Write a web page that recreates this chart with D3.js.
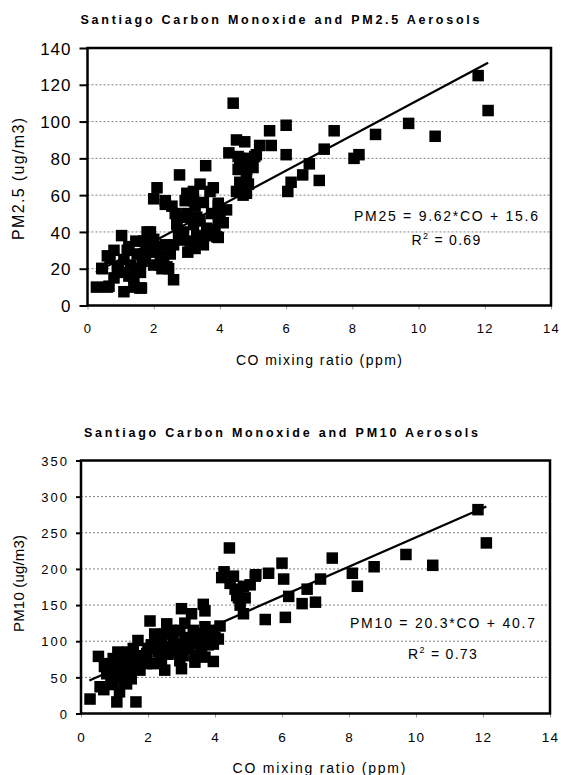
<html>
<head>
<title>Santiago CO vs PM</title>
<script src="https://d3js.org/d3.v7.min.js" charset="utf-8"></script>
<style>
  body { margin: 0; background: white; }
  svg { display: block; font-family: "Liberation Sans", Arial, sans-serif; }
</style>
</head>
<body>
<script>
// PM2.5 panel: CO (ppm) and PM2.5 (ug/m3)
var coPm25 = [11.8, 12.1, 4.4, 9.7, 10.5, 8.7, 8.05, 8.2, 7.45, 7.15, 7.0, 6.7, 6.5, 6.15, 6.05, 6.0, 6.0, 5.5, 5.55, 5.2,
  5.1, 5.0, 4.5, 4.75, 4.27, 4.55, 4.8, 4.55, 4.81, 4.6, 4.86, 4.8, 3.57, 2.78, 2.1, 3.4, 3.8, 3.2, 0.27, 0.65,
  1.03, 1.1, 1.63, 2.6, 2.25, 3.03, 2.75, 2.0, 2.65, 2.95, 3.25, 3.4, 3.95, 4.1, 3.95, 3.5, 3.25, 1.46, 1.9, 1.8,
  0.6, 0.45, 0.93, 1.25, 1.4, 2.45, 2.3, 0.8, 1.1, 1.65, 1.95, 2.35, 2.7, 2.9, 2.55, 2.35, 3.3, 3.85, 3.7, 4.5,
  4.8, 4.6, 5.05, 4.6, 4.8, 4.7, 2.35, 3.0, 3.2, 3.1, 3.95, 2.7, 2.8, 3.4, 3.9, 3.95, 1.8, 0.68, 0.43, 0.6,
  1.58, 2.5, 2.2, 1.25, 1.45, 1.75, 2.05, 0.9, 1.4, 2.4,
  1.2, 1.5, 1.7, 2.0, 2.2, 1.0, 1.3, 1.6, 2.0, 0.8, 3.0, 3.3, 3.6, 3.75, 3.5, 2.9, 3.1, 3.6, 4.0, 2.6,
  3.2, 4.2];
var pm25 = [125, 106, 110, 99, 92, 93, 80, 82, 95, 85, 68, 77, 71, 67, 62, 98, 82, 95, 87, 87,
  82, 75, 90, 89, 83, 81, 80, 74, 74, 67, 66, 61, 76, 71, 64, 66, 64, 62, 10, 10.5,
  38, 7.5, 9.5, 14, 20, 29, 38, 58, 50, 57, 54, 46, 54, 45, 37, 33, 31, 35, 40, 31,
  27, 20, 21, 16, 10, 20, 24, 30, 25, 24, 29, 33, 44, 48, 54, 57, 38, 41, 62, 62,
  66, 80, 81, 74, 68, 60, 55, 61, 57, 59, 55.6, 44.7, 35.6, 35.6, 37.4, 46, 40, 25.6, 20.2, 10,
  9.5, 28, 22, 32, 20, 26, 32, 20, 15, 21,
  30, 28, 35, 36, 27, 18, 22, 18, 22, 15, 50, 48, 42, 50, 56, 40, 35, 38, 49, 33,
  44, 52];

// PM10 panel
var coPm10 = [4.43, 4.27, 4.55, 5.22, 5.6, 4.85, 4.65, 4.9, 4.85, 5.5, 3.0, 3.3, 3.65, 3.7, 2.06, 2.56, 2.5, 2.95, 3.35, 3.95,
  4.15, 1.7, 2.26, 2.66, 3.45, 3.95, 4.1, 0.52, 0.96, 1.26, 1.66, 1.96, 2.16, 2.5, 2.95, 3.4, 3.4, 3.95, 3.7, 0.57,
  0.27, 1.07, 1.64, 1.15, 0.77, 0.96, 1.36, 1.46, 1.76, 1.16, 1.96, 1.56, 1.26, 0.86, 1.06, 11.85, 12.1, 9.7, 10.5, 8.75,
  8.1, 8.25, 7.5, 7.15, 6.75, 6.0, 6.05, 6.2, 6.6, 7.0, 6.1, 4.7, 0.68, 5.2, 4.45, 4.6, 5.05, 4.75, 4.2, 2.0,
  2.3, 2.75, 3.1, 3.6, 3.8, 2.8, 3.2, 1.4, 1.0, 1.2, 0.9, 2.2, 2.4, 3.05, 3.6, 1.85, 1.3, 1.5, 0.7,
  0.8, 1.1, 1.3, 1.6, 1.9, 2.1, 2.6, 2.9, 3.3, 3.5, 3.8, 4.0, 2.7, 3.1, 1.2, 0.9, 1.5, 2.4, 3.0, 3.7];
var pm10 = [229, 196, 190, 192, 194, 176, 163, 160, 138, 130, 145, 138, 151, 142, 128, 124, 110, 115, 115, 115,
  121, 101, 96, 92, 96, 96, 103, 79, 76, 73, 78, 83, 69, 60, 73, 71, 80, 72, 78, 37,
  20, 16, 16, 30, 55, 46, 41, 55, 60, 60, 69, 90, 64, 69, 72, 282, 236, 220, 205, 203,
  194, 176, 215, 186, 172, 208, 186, 162, 152, 154, 133, 160, 33, 190, 180, 172, 178, 150, 188, 90,
  85, 100, 105, 100, 108, 85, 90, 85, 60, 50, 40, 110, 100, 80, 88, 70, 45, 70, 65,
  62, 85, 58, 62, 80, 95, 82, 95, 102, 110, 95, 105, 115, 125, 78, 52, 48, 72, 62, 120];

var xTicks = [0, 2, 4, 6, 8, 10, 12, 14];
var pm25Ticks = [0, 20, 40, 60, 80, 100, 120, 140];
var pm10Ticks = [0, 50, 100, 150, 200, 250, 300, 350];

var titles = ["Santiago Carbon Monoxide and PM2.5 Aerosols", "Santiago Carbon Monoxide and PM10 Aerosols"];
var yLabels = ["PM2.5 (ug/m3)", "PM10 (ug/m3)"];
var xLabel = "CO mixing ratio (ppm)";
var fitText = ["PM25 = 9.62*CO + 15.6", "PM10 = 20.3*CO + 40.7"];
var r2Text = [" = 0.69", " = 0.73"];
var fitSlope = [9.62, 20.3];
var fitIntercept = [15.6, 40.7];
var fitRange = [0.25, 12.1];

var width = 561, height = 775;

var svg = d3.select("body").append("svg")
  .attr("width", width)
  .attr("height", height);

svg.append("rect").attr("width", width).attr("height", height).attr("fill", "white");

var panels = [
  { co: coPm25, pm: pm25, ticks: pm25Ticks, left: 87.5, right: 551, top: 48, bottom: 305.5,
    titleY: 24, titleW: 399, titleX: 280,
    yTickLen: 8, yTickFont: 17, yTickSpace: 1, yTickOff: 16,
    xTickFont: 13, xTickY: 27.5,
    yLabelFont: 16, yLabelY: 179, yLabelW: 122,
    xLabelY: 365, xLabelW: 166,
    fitX: 446, fitY: 220.7, fitW: 184, r2X: 411.5, r2Y: 245 },
  { co: coPm10, pm: pm10, ticks: pm10Ticks, left: 81, right: 550, top: 460.5, bottom: 713.5,
    titleY: 437, titleW: 394, titleX: 281,
    yTickLen: 5, yTickFont: 13, yTickSpace: 2, yTickOff: 12,
    xTickFont: 13.5, xTickY: 28.2,
    yLabelFont: 15, yLabelY: 583.5, yLabelW: 97,
    xLabelY: 773, xLabelW: 173,
    fitX: 442.5, fitY: 628.3, fitW: 185, r2X: 408, r2Y: 659 }
];

panels.forEach(function(p, i) {
  var x = d3.scaleLinear().domain([0, 14]).range([p.left, p.right]);
  var y = d3.scaleLinear().domain([0, d3.max(p.ticks)]).range([p.bottom, p.top]);
  var g = svg.append("g");

  // title
  g.append("text")
    .attr("x", p.titleX).attr("y", p.titleY)
    .attr("text-anchor", "middle")
    .attr("font-weight", "bold")
    .attr("font-size", 12.5)
    .attr("textLength", p.titleW)
    .attr("lengthAdjust", "spacing")
    .text(titles[i]);

  // dotted gridlines
  g.selectAll(".grid")
    .data(p.ticks.slice(1, -1))
    .enter().append("line")
    .attr("x1", p.left).attr("x2", p.right)
    .attr("y1", function(d) { return y(d); })
    .attr("y2", function(d) { return y(d); })
    .attr("stroke", "#808080")
    .attr("stroke-width", 1)
    .attr("stroke-dasharray", "2,2");

  // y axis
  var ya = g.append("g")
    .attr("transform", "translate(" + p.left + ",0)")
    .call(d3.axisLeft(y).tickValues(p.ticks).tickSize(p.yTickLen).tickSizeOuter(0));
  ya.select(".domain").remove();
  ya.selectAll("line").attr("stroke", "black").attr("stroke-width", 2);
  ya.selectAll("text")
    .attr("x", -p.yTickOff)
    .attr("dy", "0.36em")
    .attr("font-size", p.yTickFont)
    .attr("letter-spacing", p.yTickSpace)
    .attr("font-family", "'Liberation Sans', Arial, sans-serif")
    .attr("fill", "black");

  // x axis
  var xa = g.append("g")
    .attr("transform", "translate(0," + p.bottom + ")")
    .call(d3.axisBottom(x).tickValues(xTicks).tickSize(4).tickSizeOuter(0));
  xa.select(".domain").remove();
  xa.selectAll("line").attr("stroke", "#999");
  xa.selectAll("text")
    .attr("y", p.xTickY)
    .attr("dy", 0)
    .attr("font-size", p.xTickFont)
    .attr("letter-spacing", 1.2)
    .attr("font-family", "'Liberation Sans', Arial, sans-serif")
    .attr("fill", "black");

  // points
  g.selectAll(".pt")
    .data(p.co)
    .enter().append("rect")
    .attr("x", function(d) { return x(d) - 5.75; })
    .attr("y", function(d, j) { return y(p.pm[j]) - 5.75; })
    .attr("width", 11.5)
    .attr("height", 11.5)
    .attr("fill", "black");

  // regression line
  var line = d3.line()
    .x(function(d) { return x(d); })
    .y(function(d) { return y(fitSlope[i] * d + fitIntercept[i]); });
  g.append("path")
    .datum(fitRange)
    .attr("d", line)
    .attr("fill", "none")
    .attr("stroke", "black")
    .attr("stroke-width", 2.2);

  // frame
  g.append("rect")
    .attr("x", p.left).attr("y", p.top)
    .attr("width", p.right - p.left)
    .attr("height", p.bottom - p.top)
    .attr("fill", "none")
    .attr("stroke", "black")
    .attr("stroke-width", 2.5);

  // equation
  g.append("text")
    .attr("x", p.fitX).attr("y", p.fitY)
    .attr("text-anchor", "middle")
    .attr("font-size", 14)
    .attr("textLength", p.fitW)
    .attr("lengthAdjust", "spacing")
    .text(fitText[i]);

  var r2 = g.append("text")
    .attr("x", p.r2X).attr("y", p.r2Y)
    .attr("font-size", 14)
    .attr("letter-spacing", 1.3);
  r2.append("tspan").text("R");
  r2.append("tspan").attr("font-size", 9).attr("dy", -6).text("2");
  r2.append("tspan").attr("dy", 6).text(r2Text[i]);

  // axis labels
  g.append("text")
    .attr("x", 319).attr("y", p.xLabelY)
    .attr("text-anchor", "middle")
    .attr("font-size", 14)
    .attr("textLength", p.xLabelW)
    .attr("lengthAdjust", "spacing")
    .text(xLabel);

  g.append("text")
    .attr("transform", "translate(24," + p.yLabelY + ") rotate(-90)")
    .attr("text-anchor", "middle")
    .attr("font-size", p.yLabelFont)
    .attr("textLength", p.yLabelW)
    .attr("lengthAdjust", "spacing")
    .text(yLabels[i]);
});
</script>
</body>
</html>
